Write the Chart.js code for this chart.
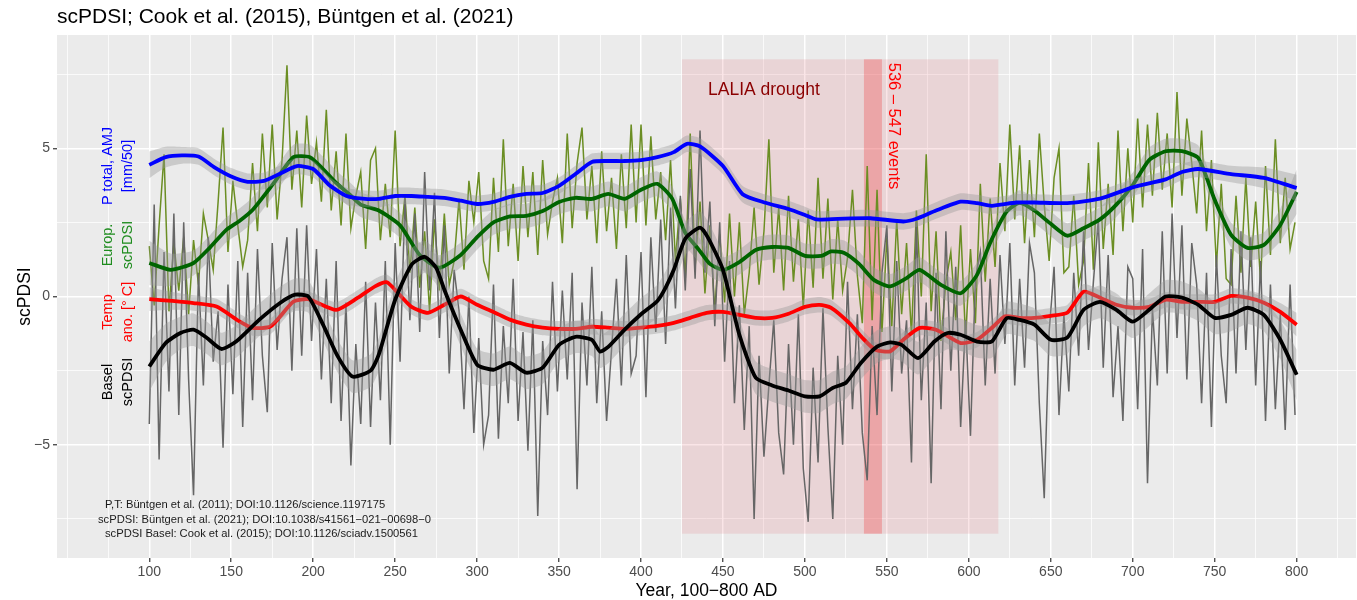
<!DOCTYPE html>
<html><head><meta charset="utf-8">
<script src="https://cdn.jsdelivr.net/npm/chart.js@4"></script>
<style>html,body{margin:0;padding:0;background:#fff}canvas{display:block}</style>
</head><body>
<canvas id="c" width="1357" height="600"></canvas>
<script>
const FONT = '"Liberation Sans", Arial, Helvetica, sans-serif';

// ---------- axis ticks / grid ----------
const xGrid = [50,75,100,125,150,175,200,225,250,275,300,325,350,375,400,425,450,475,500,525,550,575,600,625,650,675,700,725,750,775,800,825];
const xMajor = [100,150,200,250,300,350,400,450,500,550,600,650,700,750,800];
const yGrid = [-7.5,-5,-2.5,0,2.5,5,7.5];
const yMajor = [-5,0,5];

// ---------- annotation extents ----------
const laliaX = [425, 618];
const eventsX = [536, 547];
const bandY = [-8, 8];

// ---------- annual (noisy) series, every 3rd year from 100 ----------
const noisyYears = [];
for (let y = 100; y <= 799; y += 3) noisyYears.push(y);

const europAnnual = [
 1.7,-0.3,2.4,4.8,-0.5,1.8,0.2,2.0,-0.6,1.9,
 0.4,2.8,1.9,0.9,3.2,5.7,1.5,3.9,2.4,1.0,
 1.9,4.5,2.2,5.5,3.0,5.8,2.6,4.6,7.8,3.6,
 5.6,3.0,6.1,3.8,5.2,3.2,6.3,2.9,4.9,2.4,
 5.5,2.3,3.4,4.2,1.6,4.6,5.0,1.9,3.8,2.0,
 5.6,1.7,3.4,0.8,3.0,0.3,2.2,-0.5,2.6,0.2,
 2.8,0.4,1.2,3.3,0.9,3.9,2.5,4.2,1.2,0.6,
 4.0,1.5,5.3,1.7,3.8,1.2,4.4,2.0,4.2,1.4,
 4.6,2.1,3.2,4.0,1.8,5.5,2.3,4.5,5.7,2.6,
 4.4,1.8,4.9,2.2,4.0,1.6,4.8,2.3,5.8,2.5,
 5.8,2.4,5.4,2.6,4.2,1.9,4.6,1.2,3.3,0.6,
 5.5,1.0,3.2,0.1,2.4,-0.5,2.1,-0.2,2.8,0.0,
 2.5,-0.6,0.8,3.0,0.4,2.2,5.3,0.8,3.0,0.2,
 3.4,0.5,2.6,-0.4,2.9,0.3,4.0,0.6,3.3,-0.1,
 2.6,0.2,1.3,3.6,0.7,-0.9,4.4,-0.8,3.6,-1.2,
 2.0,-1.0,2.6,-0.6,1.8,-1.3,2.9,0.0,4.8,-0.5,
 2.2,-1.5,0.5,1.5,-0.8,2.4,-1.4,1.6,-0.9,3.8,
 0.5,3.3,1.0,4.5,2.2,5.8,2.6,5.1,1.8,4.6,
 2.0,5.5,3.1,1.2,4.0,5.0,0.8,1.0,3.4,0.4,
 1.2,4.5,0.9,5.2,1.6,3.8,1.4,5.6,2.2,5.0,
 2.5,6.0,3.0,5.8,3.4,6.2,3.6,5.5,3.0,6.9,
 3.4,6.0,4.5,2.8,5.6,2.2,4.6,1.0,3.8,0.6,
 0.4,3.4,0.8,4.0,1.0,3.2,0.5,4.4,1.4,5.3,
 1.8,4.0,1.6,2.5
];

const baselAnnual = [
 -4.3,3.1,-5.5,1.5,-3.2,2.8,-4.0,2.5,-2.8,-6.7,
 0.8,-3.0,2.0,-2.2,-0.5,-5.1,0.4,-3.3,1.2,-4.4,
 0.8,-3.5,1.6,-2.0,-3.9,1.8,-1.8,0.6,2.0,-2.5,
 2.3,-2.0,2.4,-1.5,1.6,-2.8,0.6,-3.6,1.2,-4.2,
 -0.2,-5.7,-1.6,-4.3,0.5,-4.4,-0.2,-3.5,1.2,-5.0,
 1.8,-2.2,3.3,-0.8,2.8,-1.2,4.2,0.2,3.5,-1.4,
 2.4,-2.6,0.9,-0.5,-3.8,0.0,-4.6,-1.4,-5.0,-4.0,
 0.4,-4.8,-1.0,-3.6,0.6,-4.2,-1.2,-5.2,-0.8,-7.4,
 -1.5,-4.0,0.5,-3.2,0.2,-2.8,0.8,-6.5,-0.2,-3.0,
 1.0,-3.6,-0.5,-4.2,-1.8,0.6,-3.0,1.4,-2.6,-2.0,
 1.5,-3.4,2.0,-1.2,2.6,-1.6,3.0,-0.4,3.4,0.2,
 4.3,0.6,5.6,0.8,3.2,-1.0,2.5,-2.2,1.2,-3.6,
 -0.3,-4.5,-1.0,-7.5,-2.0,-5.4,-3.0,-0.8,-4.6,-6.0,
 -1.6,-5.0,-0.6,-5.8,-7.6,-2.4,-5.6,-0.4,-4.4,-7.5,
 -2.0,-5.0,0.5,-3.8,-0.6,-4.6,-6.2,-1.0,-4.0,0.8,
 2.4,-3.2,1.2,-2.6,-0.8,-5.6,2.5,-3.5,-0.2,-6.3,
 0.8,-3.8,2.2,-2.5,1.0,-4.4,-0.8,-4.7,0.6,1.5,
 -3.0,0.6,-2.6,1.4,-1.6,1.8,-3.0,0.6,-2.4,1.8,
 0.8,-3.6,-6.8,-1.2,1.0,-4.0,-0.6,-3.2,0.8,-2.0,
 2.2,-1.8,0.5,2.6,-2.4,1.4,-3.4,-1.0,-4.2,1.0,
 0.6,-3.8,1.6,-6.3,-0.4,-3.0,2.2,-2.6,2.8,-1.4,
 2.4,-2.8,1.8,0.4,-3.6,0.8,-4.4,1.4,-2.0,-3.6,
 1.6,-2.6,2.2,-1.8,2.0,-3.0,1.2,-4.2,0.4,-3.8,
 -0.6,-4.5,0.4,-4.0
];

// ---------- smoothed series (with standard-error half widths) ----------
const precipYears = [100,110,120,130,140,150,160,170,180,190,200,210,220,230,240,250,260,270,280,290,300,310,320,330,340,350,360,370,380,390,400,410,420,428,436,450,462,476,490,500,507,520,540,560,568,580,595,605,614,629,640,660,680,700,720,730,740,760,780,800];
const precipVals = [4.44,4.7,4.76,4.72,4.35,4.05,3.87,3.9,4.15,4.4,4.3,3.75,3.4,3.3,3.29,3.39,3.39,3.36,3.33,3.23,3.12,3.19,3.36,3.46,3.49,3.73,4.13,4.54,4.57,4.57,4.6,4.7,4.87,5.15,5.06,4.4,3.45,3.16,2.95,2.75,2.6,2.62,2.64,2.53,2.62,2.9,3.2,3.15,3.06,3.17,3.17,3.15,3.3,3.68,3.95,4.2,4.3,4.13,4.0,3.66];
const precipSe = [0.45,0.35,0.28,0.28,0.28,0.28,0.28,0.28,0.28,0.28,0.28,0.28,0.28,0.28,0.28,0.28,0.28,0.28,0.28,0.28,0.28,0.28,0.28,0.28,0.28,0.28,0.28,0.28,0.28,0.28,0.28,0.28,0.28,0.28,0.28,0.28,0.28,0.28,0.28,0.28,0.28,0.28,0.28,0.28,0.28,0.28,0.28,0.28,0.28,0.28,0.28,0.28,0.28,0.28,0.28,0.28,0.28,0.28,0.35,0.45];

const europYears = [100,113,127,137,147,155,163,176,188,198,206,214,222,229,240,253,265,277,290,300,310,320,330,340,350,360,370,380,390,400,410,419,427,435,442,450,460,470,480,490,500,510,516,524,533,542,552,562,570,583,595,605,613,623,631,640,650,660,670,680,690,700,710,720,730,740,750,760,770,780,790,800];
const europVals = [1.13,0.9,1.13,1.65,2.25,2.55,2.92,3.83,4.7,4.7,4.3,3.83,3.45,3.1,2.9,2.4,1.4,0.97,1.4,2.0,2.5,2.7,2.72,2.88,3.19,3.33,3.29,3.46,3.29,3.6,3.8,3.3,2.15,1.6,1.1,0.9,1.16,1.57,1.67,1.64,1.37,1.37,1.52,1.47,1.1,0.56,0.34,0.62,0.9,0.39,0.11,0.73,1.81,2.86,3.16,2.9,2.45,2.05,2.3,2.6,3.1,3.76,4.6,4.9,4.9,4.67,3.26,2.08,1.64,1.74,2.41,3.53];
const europSe = [0.75,0.55,0.42,0.42,0.42,0.42,0.42,0.42,0.42,0.42,0.42,0.42,0.42,0.42,0.42,0.42,0.42,0.42,0.42,0.42,0.42,0.42,0.42,0.42,0.42,0.42,0.42,0.42,0.42,0.42,0.42,0.42,0.42,0.42,0.42,0.42,0.42,0.42,0.42,0.42,0.42,0.42,0.42,0.42,0.42,0.42,0.42,0.42,0.42,0.42,0.42,0.42,0.42,0.42,0.42,0.42,0.42,0.42,0.42,0.42,0.42,0.42,0.42,0.42,0.42,0.42,0.42,0.42,0.42,0.42,0.55,0.75];

const tempYears = [100,114,127,141,155,163,174,188,197,214,227,238,245,252,260,270,280,290,300,310,320,330,340,350,360,370,380,390,400,410,420,430,440,450,460,470,480,490,500,509,516,527,535,543,552,560,570,580,595,605,615,622,631,640,650,660,670,680,690,700,710,720,730,740,750,760,770,780,790,800];
const tempVals = [-0.09,-0.15,-0.22,-0.34,-0.84,-1.06,-1.01,-0.17,-0.09,-0.45,-0.05,0.35,0.48,0.1,-0.35,-0.55,-0.28,0.0,-0.28,-0.52,-0.78,-0.95,-1.05,-1.09,-1.09,-1.02,-1.05,-1.09,-1.05,-0.99,-0.89,-0.72,-0.55,-0.52,-0.62,-0.72,-0.72,-0.58,-0.35,-0.28,-0.38,-0.89,-1.39,-1.8,-1.85,-1.46,-1.06,-1.12,-1.57,-1.46,-1.01,-0.67,-0.72,-0.72,-0.65,-0.55,0.16,-0.04,-0.28,-0.38,-0.35,-0.11,-0.18,-0.18,-0.18,0.02,-0.04,-0.21,-0.52,-0.95];
const tempSe = [0.4,0.3,0.26,0.26,0.26,0.26,0.26,0.26,0.26,0.26,0.26,0.26,0.26,0.26,0.26,0.26,0.26,0.26,0.26,0.26,0.26,0.26,0.26,0.26,0.26,0.26,0.26,0.26,0.26,0.26,0.26,0.26,0.26,0.26,0.26,0.26,0.26,0.26,0.26,0.26,0.26,0.26,0.26,0.26,0.26,0.26,0.26,0.26,0.26,0.26,0.26,0.26,0.26,0.26,0.26,0.26,0.26,0.26,0.26,0.26,0.26,0.26,0.26,0.26,0.26,0.26,0.26,0.26,0.3,0.4];

const baselYears = [100,110,119,127,135,144,153,167,180,189,197,206,215,224,235,240,250,260,268,275,280,290,300,310,320,330,340,350,360,370,375,380,390,400,410,415,420,427,436,441,450,460,470,480,490,500,509,517,525,534,544,552,559,569,579,587,595,605,614,623,631,640,650,660,670,680,690,700,710,720,730,740,750,760,770,780,790,800];
const baselVals = [-2.36,-1.57,-1.23,-1.12,-1.39,-1.77,-1.52,-0.79,-0.21,0.06,0.0,-0.95,-2.02,-2.7,-2.5,-1.96,-0.11,1.07,1.34,0.97,0.23,-1.12,-2.3,-2.47,-2.24,-2.57,-2.4,-1.63,-1.36,-1.46,-1.86,-1.7,-1.12,-0.6,-0.15,0.3,0.9,1.95,2.32,1.97,0.9,-1.29,-2.74,-3.0,-3.17,-3.37,-3.37,-3.08,-2.91,-2.25,-1.69,-1.55,-1.63,-2.08,-1.52,-1.23,-1.29,-1.52,-1.52,-0.73,-0.79,-0.95,-1.46,-1.39,-0.45,-0.18,-0.45,-0.85,-0.45,0.0,-0.04,-0.28,-0.72,-0.62,-0.38,-0.62,-1.46,-2.64];
const baselSe = [0.85,0.65,0.55,0.55,0.55,0.55,0.55,0.55,0.55,0.55,0.55,0.55,0.55,0.55,0.55,0.55,0.55,0.55,0.55,0.55,0.55,0.55,0.55,0.55,0.55,0.55,0.55,0.55,0.55,0.55,0.55,0.55,0.55,0.55,0.55,0.55,0.55,0.55,0.55,0.55,0.55,0.55,0.55,0.55,0.55,0.55,0.55,0.55,0.55,0.55,0.55,0.55,0.55,0.55,0.55,0.55,0.55,0.55,0.55,0.55,0.55,0.55,0.55,0.55,0.55,0.55,0.55,0.55,0.55,0.55,0.55,0.55,0.55,0.55,0.55,0.55,0.65,0.85];

// ---------- helpers ----------
const pts = (xs, ys) => xs.map((x, i) => ({x, y: ys[i]}));
const band = (xs, ys, se, s) => xs.map((x, i) => ({x, y: ys[i] + s * se[i]}));
const RIBBON = 'rgba(153,153,153,0.4)';
const NONE = 'rgba(0,0,0,0)';
function smoothSets(xs, ys, se, color) {
  return [
    {data: pts(xs, ys), borderColor: color, borderWidth: 3.8, pointRadius: 0, fill: false, tension: 0.2, borderJoinStyle: 'round'},
    {data: band(xs, ys, se, 1), borderColor: NONE, borderWidth: 1, backgroundColor: RIBBON, pointRadius: 0, fill: '+1', tension: 0.2},
    {data: band(xs, ys, se, -1), borderColor: NONE, borderWidth: 1, pointRadius: 0, fill: false, tension: 0.2}
  ];
}

const datasets = [
  ...smoothSets(precipYears, precipVals, precipSe, '#0000FF'),
  ...smoothSets(baselYears, baselVals, baselSe, '#000000'),
  ...smoothSets(tempYears, tempVals, tempSe, '#FF0000'),
  ...smoothSets(europYears, europVals, europSe, '#006400'),
  {data: pts(noisyYears, baselAnnual), borderColor: '#666666', borderWidth: 1.5, pointRadius: 0, fill: false, tension: 0},
  {data: pts(noisyYears, europAnnual), borderColor: '#6B8E23', borderWidth: 1.5, pointRadius: 0, fill: false, tension: 0}
];

const bgPlugin = {
  id: 'bg',
  beforeDraw(chart) {
    const {ctx, chartArea: a} = chart;
    ctx.save();
    ctx.fillStyle = '#FFFFFF';
    ctx.fillRect(0, 0, chart.width, chart.height);
    ctx.fillStyle = '#EBEBEB';
    ctx.fillRect(a.left, a.top, a.right - a.left, a.bottom - a.top);
    ctx.restore();
  }
};

const rectPlugin = {
  id: 'rects',
  beforeDatasetsDraw(chart) {
    const {ctx, scales: {x, y}} = chart;
    ctx.save();
    const y0 = y.getPixelForValue(bandY[1]), y1 = y.getPixelForValue(bandY[0]);
    let x0 = x.getPixelForValue(laliaX[0]), x1 = x.getPixelForValue(laliaX[1]);
    ctx.fillStyle = 'rgba(222,82,95,0.15)';
    ctx.fillRect(x0, y0, x1 - x0, y1 - y0);
    x0 = x.getPixelForValue(eventsX[0]); x1 = x.getPixelForValue(eventsX[1]);
    ctx.fillStyle = 'rgba(238,90,92,0.38)';
    ctx.fillRect(x0, y0, x1 - x0, y1 - y0);
    ctx.restore();
  }
};

function rotText(ctx, text, x, y, ang, font, color) {
  ctx.save();
  ctx.translate(x, y);
  ctx.rotate(ang);
  ctx.font = font;
  ctx.fillStyle = color;
  ctx.textAlign = 'center';
  ctx.textBaseline = 'middle';
  ctx.fillText(text, 0, 0);
  ctx.restore();
}

const textPlugin = {
  id: 'texts',
  afterDraw(chart) {
    const {ctx, chartArea: a} = chart;
    ctx.save();
    // title
    ctx.font = `21px ${FONT}`;
    ctx.fillStyle = '#000';
    ctx.textAlign = 'left';
    ctx.textBaseline = 'middle';
    ctx.fillText('scPDSI; Cook et al. (2015), Büntgen et al. (2021)', 57, 17);
    // axis titles
    ctx.font = `17.5px ${FONT}`;
    ctx.textAlign = 'center';
    ctx.fillText('Year, 100\u2212800 AD', (a.left + a.right) / 2, 591);
    rotText(ctx, 'scPDSI', 25, (a.top + a.bottom) / 2, -Math.PI / 2, `17.5px ${FONT}`, '#000');
    // left series labels
    const lf = `14.5px ${FONT}`;
    rotText(ctx, 'P total, AMJ', 107.5, 166, -Math.PI / 2, lf, '#0000FF');
    rotText(ctx, '[mm/50]', 128, 166, -Math.PI / 2, lf, '#0000FF');
    rotText(ctx, 'Europ.', 107.5, 245, -Math.PI / 2, lf, '#1E8C1E');
    rotText(ctx, 'scPDSI', 128, 245, -Math.PI / 2, lf, '#1E8C1E');
    rotText(ctx, 'Temp', 107.5, 312, -Math.PI / 2, lf, '#FF0000');
    rotText(ctx, 'ano. [° C]', 128, 312, -Math.PI / 2, lf, '#FF0000');
    rotText(ctx, 'Basel', 107.5, 382, -Math.PI / 2, lf, '#000000');
    rotText(ctx, 'scPDSI', 128, 382, -Math.PI / 2, lf, '#000000');
    // annotations
    ctx.font = `17.5px ${FONT}`;
    ctx.fillStyle = '#8B0000';
    ctx.textAlign = 'left';
    ctx.textBaseline = 'middle';
    ctx.fillText('LALIA drought', 708, 90);
    rotText(ctx, '536 \u2013 547 events', 894, 126, Math.PI / 2, `16.5px ${FONT}`, '#FF0000');
    // citations
    ctx.font = `11.2px ${FONT}`;
    ctx.fillStyle = '#1a1a1a';
    ctx.textAlign = 'left';
    ctx.fillText('P,T: Büntgen et al. (2011); DOI:10.1126/science.1197175', 105, 505);
    ctx.fillText('scPDSI: Büntgen et al. (2021); DOI:10.1038/s41561\u2212021\u221200698\u22120', 98, 520);
    ctx.fillText('scPDSI Basel: Cook et al. (2015); DOI:10.1126/sciadv.1500561', 105, 534);
    ctx.restore();
  }
};

new Chart(document.getElementById('c'), {
  type: 'line',
  data: {datasets},
  plugins: [bgPlugin, rectPlugin, textPlugin],
  options: {
    responsive: false,
    devicePixelRatio: 1,
    animation: false,
    layout: {padding: {left: 0, top: 35, right: 1, bottom: 0}},
    plugins: {legend: {display: false}, tooltip: {enabled: false}, title: {display: false},
      filler: {propagate: false, drawTime: 'beforeDatasetDraw'}},
    scales: {
      x: {
        type: 'linear', min: 43.7, max: 836.2,
        afterFit: s => { s.height = 42; },
        afterBuildTicks: s => { s.ticks = xGrid.map(v => ({value: v})); },
        border: {display: false},
        grid: {
          color: '#FFFFFF',
          lineWidth: c => (c.tick && xMajor.includes(c.tick.value)) ? 1.5 : 0.75,
          tickColor: c => (c.tick && xMajor.includes(c.tick.value)) ? '#333333' : NONE,
          tickLength: 4, tickWidth: 1.2
        },
        ticks: {
          autoSkip: false, maxRotation: 0, padding: 2, color: '#4D4D4D',
          font: {family: FONT, size: 14},
          callback: v => xMajor.includes(v) ? String(v) : ''
        }
      },
      y: {
        type: 'linear', min: -8.82, max: 8.82,
        afterFit: s => { s.width = 57; },
        afterBuildTicks: s => { s.ticks = yGrid.map(v => ({value: v})); },
        border: {display: false},
        grid: {
          color: '#FFFFFF',
          lineWidth: c => (c.tick && yMajor.includes(c.tick.value)) ? 1.5 : 0.75,
          tickColor: c => (c.tick && yMajor.includes(c.tick.value)) ? '#333333' : NONE,
          tickLength: 4, tickWidth: 1.2
        },
        ticks: {
          padding: 3, color: '#4D4D4D',
          font: {family: FONT, size: 14},
          callback: v => yMajor.includes(v) ? (v < 0 ? '\u2212' + Math.abs(v) : String(v)) : ''
        }
      }
    }
  }
});
</script>
</body></html>
